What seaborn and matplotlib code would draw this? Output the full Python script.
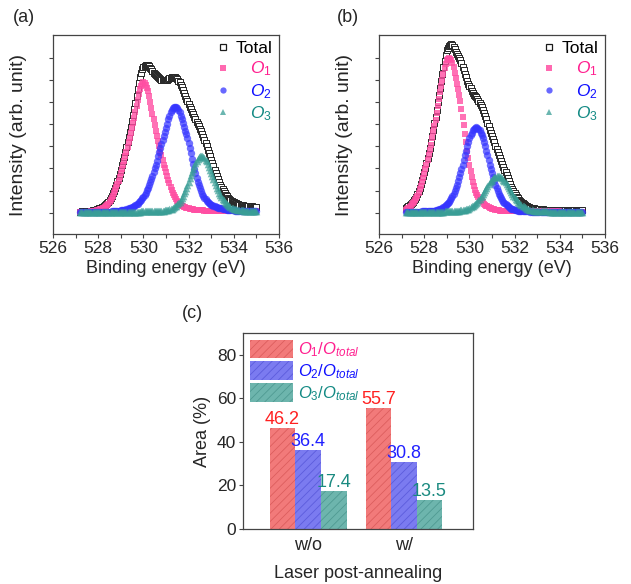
import matplotlib
matplotlib.use("Agg")
import matplotlib.pyplot as plt
import seaborn as sns
import pandas as pd
from matplotlib.lines import Line2D
from matplotlib.patches import Patch

sns.set_style("ticks")
plt.rcParams['font.family'] = ['Liberation Sans', 'DejaVu Sans']
plt.rcParams['mathtext.fontset'] = 'custom'
plt.rcParams['mathtext.it'] = 'Liberation Sans:italic'
plt.rcParams['mathtext.rm'] = 'Liberation Sans'
plt.rcParams['mathtext.sf'] = 'Liberation Sans'
plt.rcParams['mathtext.bf'] = 'Liberation Sans:bold'
plt.rcParams['hatch.linewidth'] = 0.6

# ---------------- data ----------------
energy = [527.20, 527.25, 527.30, 527.35, 527.40, 527.45, 527.50, 527.55,
          527.60, 527.65, 527.70, 527.75, 527.80, 527.85, 527.90, 527.95,
          528.00, 528.05, 528.10, 528.15, 528.20, 528.25, 528.30, 528.35, 528.40, 528.45,
          528.50, 528.55, 528.60, 528.65, 528.70, 528.75, 528.80, 528.85, 528.90, 528.95,
          529.00, 529.05, 529.10, 529.15, 529.20, 529.25, 529.30, 529.35, 529.40, 529.45,
          529.50, 529.55, 529.60, 529.65, 529.70, 529.75, 529.80, 529.85, 529.90, 529.95,
          530.00, 530.05, 530.10, 530.15, 530.20, 530.25, 530.30, 530.35, 530.40, 530.45,
          530.50, 530.55, 530.60, 530.65, 530.70, 530.75, 530.80, 530.85, 530.90, 530.95,
          531.00, 531.05, 531.10, 531.15, 531.20, 531.25, 531.30, 531.35, 531.40, 531.45,
          531.50, 531.55, 531.60, 531.65, 531.70, 531.75, 531.80, 531.85, 531.90, 531.95,
          532.00, 532.05, 532.10, 532.15, 532.20, 532.25, 532.30, 532.35, 532.40, 532.45,
          532.50, 532.55, 532.60, 532.65, 532.70, 532.75, 532.80, 532.85, 532.90, 532.95,
          533.00, 533.05, 533.10, 533.15, 533.20, 533.25, 533.30, 533.35, 533.40, 533.45,
          533.50, 533.55, 533.60, 533.65, 533.70, 533.75, 533.80, 533.85, 533.90, 533.95,
          534.00, 534.05, 534.10, 534.15, 534.20, 534.25, 534.30, 534.35, 534.40, 534.45,
          534.50, 534.55, 534.60, 534.65, 534.70, 534.75, 534.80, 534.85, 534.90, 534.95,
          535.00]

# panel (a): without laser post-annealing
total_a = [.04, .045, .05, .055, .06, .065, .07, .075, .08, .085, .09, .10, .11, .125, .14, .155,
           .17, .19, .21, .235, .26, .29, .33, .38, .43, .50, .57, .66, .76, .88, 1.00, 1.13, 1.27, 1.43, 1.59, 1.77,
           1.95, 2.14, 2.33, 2.54, 2.76, 2.99, 3.22, 3.44, 3.66, 3.90, 4.15, 4.41, 4.68, 4.98, 5.28, 5.59, 5.88, 6.13, 6.35, 6.50,
           6.60, 6.66, 6.69, 6.69, 6.68, 6.63, 6.57, 6.50, 6.42, 6.35, 6.28, 6.22, 6.17, 6.13, 6.09, 6.06, 6.03, 6.01, 6.00, 6.00,
           6.01, 6.03, 6.06, 6.09, 6.11, 6.13, 6.14, 6.14, 6.13, 6.10, 6.05, 5.98, 5.90, 5.80, 5.68, 5.56, 5.43, 5.30, 5.17, 5.04,
           4.92, 4.80, 4.68, 4.56, 4.45, 4.34, 4.23, 4.12, 4.02, 3.91, 3.80, 3.68, 3.56, 3.43, 3.29, 3.15, 3.00, 2.85, 2.70, 2.55,
           2.40, 2.24, 2.09, 1.94, 1.79, 1.65, 1.51, 1.38, 1.26, 1.15, 1.05, .96, .88, .81, .74, .68, .63, .58, .54, .50,
           .47, .445, .42, .40, .38, .365, .35, .34, .33, .32, .31, .305, .30, .295, .29, .285, .28, .275, .27, .265,
           .26]
o1_a = [.01, .012, .015, .017, .02, .025, .03, .035, .04, .045, .05, .06, .07, .08, .09, .105,
        .12, .135, .15, .175, .20, .23, .26, .30, .35, .41, .48, .56, .66, .77, .88, 1.01, 1.14, 1.29, 1.44, 1.61,
        1.78, 1.96, 2.14, 2.34, 2.55, 2.76, 2.98, 3.18, 3.38, 3.60, 3.82, 4.06, 4.30, 4.57, 4.85, 5.12, 5.38, 5.58, 5.75, 5.85,
        5.90, 5.86, 5.78, 5.65, 5.49, 5.27, 5.02, 4.76, 4.48, 4.22, 3.95, 3.71, 3.48, 3.25, 3.01, 2.80, 2.60, 2.39, 2.18, 2.00,
        1.83, 1.65, 1.48, 1.33, 1.18, 1.04, .91, .80, .71, .62, .53, .47, .41, .36, .32, .29, .27, .245, .22, .205,
        .19, .18, .17, .16, .15, .14, .13, .125, .12, .115, .11, .105, .10, .098, .095, .092, .09, .09, .09, .09,
        .09, .09, .09, .09, .09, .09, .09, .09, .09, .09, .09, .09, .09, .09, .09, .09, .09, .09, .09, .09,
        .08, .08, .08, .08, .08, .08, .08, .08, .08, .08, .08, .08, .08, .08, .08, .08, .08, .08, .08, .08,
        .08]
o2_a = [.01, .01, .01, .011, .012, .013, .014, .015, .016, .017, .018, .019, .02, .021, .022, .023,
        .025, .026, .028, .029, .03, .032, .035, .037, .04, .042, .045, .047, .05, .055, .06, .065, .07, .077, .085, .092,
        .10, .11, .12, .13, .14, .155, .17, .19, .21, .23, .25, .27, .30, .33, .37, .41, .46, .52, .58, .65,
        .72, .81, .91, 1.02, 1.13, 1.26, 1.39, 1.53, 1.68, 1.85, 2.02, 2.18, 2.35, 2.55, 2.74, 2.93, 3.12, 3.29, 3.46, 3.65,
        3.84, 4.03, 4.22, 4.39, 4.54, 4.65, 4.73, 4.78, 4.80, 4.78, 4.73, 4.65, 4.54, 4.39, 4.22, 4.06, 3.89, 3.72, 3.55, 3.37,
        3.17, 2.93, 2.69, 2.45, 2.21, 1.99, 1.78, 1.58, 1.39, 1.24, 1.10, .97, .86, .76, .67, .60, .53, .48, .43, .39,
        .36, .33, .30, .28, .26, .245, .23, .215, .20, .19, .18, .17, .16, .15, .14, .132, .125, .118, .11, .105,
        .10, .095, .09, .085, .08, .075, .07, .067, .065, .062, .06, .058, .057, .055, .054, .053, .052, .051, .05, .05,
        .05]
o3_a = [.010, .010, .011, .011, .012, .012, .012, .012, .013, .013, .013, .013, .014, .014, .015, .015,
        .015, .015, .016, .016, .017, .017, .018, .018, .019, .019, .02, .02, .021, .021, .022, .022, .023, .023, .024, .024,
        .025, .026, .027, .028, .029, .030, .031, .032, .034, .035, .037, .038, .04, .041, .043, .045, .047, .048, .05, .052,
        .055, .057, .06, .061, .062, .063, .065, .066, .068, .069, .07, .072, .075, .077, .08, .082, .085, .09, .095, .10,
        .11, .12, .13, .145, .16, .18, .21, .24, .28, .32, .37, .43, .50, .58, .67, .77, .88, 1.00, 1.13, 1.26,
        1.40, 1.55, 1.70, 1.85, 1.99, 2.13, 2.25, 2.36, 2.45, 2.51, 2.55, 2.56, 2.55, 2.52, 2.47, 2.40, 2.32, 2.20, 2.07, 1.93,
        1.78, 1.65, 1.52, 1.39, 1.26, 1.13, 1.01, .90, .80, .71, .62, .55, .48, .42, .37, .33, .29, .26, .23, .205,
        .18, .165, .15, .14, .13, .12, .11, .105, .10, .095, .09, .088, .085, .082, .08, .077, .075, .072, .07, .07,
        .07]

# panel (b): with laser post-annealing
total_b = [.19, .235, .28, .33, .38, .43, .48, .55, .62, .72, .84, .97, 1.12, 1.29, 1.48, 1.65,
           1.83, 2.04, 2.26, 2.47, 2.69, 2.93, 3.19, 3.47, 3.76, 4.05, 4.34, 4.67, 5.00, 5.33, 5.66, 5.97, 6.28, 6.59, 6.89, 7.14,
           7.35, 7.48, 7.56, 7.61, 7.63, 7.58, 7.50, 7.40, 7.29, 7.20, 7.12, 7.03, 6.92, 6.77, 6.61, 6.45, 6.29, 6.13, 5.97, 5.85,
           5.74, 5.63, 5.52, 5.43, 5.35, 5.28, 5.22, 5.14, 5.06, 4.97, 4.88, 4.78, 4.67, 4.53, 4.38, 4.23, 4.07, 3.91, 3.75, 3.60,
           3.46, 3.32, 3.18, 3.03, 2.89, 2.74, 2.60, 2.47, 2.35, 2.21, 2.08, 1.95, 1.83, 1.69, 1.56, 1.42, 1.29, 1.18, 1.07, .97,
           .88, .80, .72, .65, .59, .54, .49, .44, .40, .35, .31, .28, .26, .24, .22, .21, .20, .19, .18, .17,
           .165, .16, .153, .15, .146, .143, .14, .138, .135, .133, .13, .13, .13, .128, .125, .125, .125, .123, .12, .12,
           .12, .12, .12, .118, .115, .115, .115, .115, .115, .113, .11, .11, .11, .11, .11, .11, .11, .11, .11, .11,
           .11]
o1_b = [.14, .18, .22, .27, .32, .37, .42, .49, .56, .66, .77, .90, 1.05, 1.22, 1.40, 1.57,
        1.75, 1.96, 2.17, 2.38, 2.59, 2.83, 3.08, 3.36, 3.64, 3.92, 4.20, 4.51, 4.83, 5.15, 5.46, 5.75, 6.02, 6.30, 6.55, 6.75,
        6.90, 6.98, 7.00, 6.97, 6.90, 6.76, 6.58, 6.35, 6.09, 5.85, 5.60, 5.33, 5.04, 4.71, 4.34, 3.96, 3.57, 3.18, 2.80, 2.47,
        2.17, 1.88, 1.61, 1.39, 1.19, 1.04, .91, .80, .70, .62, .56, .51, .46, .40, .35, .31, .28, .25, .22, .20,
        .18, .165, .15, .135, .12, .11, .10, .095, .09, .085, .08, .075, .07, .067, .065, .062, .06, .057, .055, .055,
        .055, .055, .055, .055, .055, .055, .055, .055, .055, .055, .055, .055, .055, .055, .055, .055, .055, .055, .055, .055,
        .05, .05, .05, .05, .05, .05, .05, .05, .05, .05, .05, .05, .05, .05, .05, .05, .05, .05, .05, .05,
        .045, .045, .045, .045, .045, .045, .045, .045, .045, .045, .045, .045, .045, .045, .045, .045, .045, .045, .045, .045,
        .045]
o2_b = [.033, .034, .035, .036, .037, .038, .039, .04, .041, .042, .043, .045, .046, .048, .05, .052,
        .054, .056, .058, .061, .065, .069, .073, .079, .085, .092, .10, .115, .13, .145, .16, .18, .21, .25, .29, .34,
        .39, .44, .50, .57, .66, .75, .85, .98, 1.12, 1.27, 1.43, 1.60, 1.78, 1.97, 2.16, 2.37, 2.59, 2.80, 3.01, 3.19,
        3.36, 3.51, 3.63, 3.73, 3.80, 3.84, 3.86, 3.84, 3.80, 3.73, 3.63, 3.51, 3.36, 3.19, 3.01, 2.80, 2.59, 2.37, 2.16, 1.97,
        1.78, 1.60, 1.43, 1.27, 1.12, .98, .85, .75, .66, .57, .50, .44, .39, .34, .29, .25, .21, .18, .16, .145,
        .13, .115, .10, .092, .085, .079, .073, .069, .065, .061, .058, .055, .052, .05, .048, .047, .046, .044, .043, .041,
        .04, .039, .038, .037, .036, .0355, .035, .034, .033, .0325, .032, .031, .03, .0295, .029, .028, .027, .0265, .026, .0255,
        .025, .0245, .024, .024, .024, .0235, .023, .023, .023, .0225, .022, .022, .022, .0215, .021, .021, .021, .0205, .02, .02,
        .02]
o3_b = [.02, .02, .02, .02, .021, .021, .022, .022, .023, .023, .024, .024, .025, .025, .026, .026,
        .027, .027, .028, .029, .03, .031, .032, .033, .034, .035, .036, .037, .038, .039, .04, .042, .045, .047, .05, .052,
        .055, .057, .06, .062, .065, .067, .07, .075, .08, .085, .09, .095, .10, .105, .11, .12, .13, .145, .16, .18,
        .21, .24, .28, .32, .36, .40, .45, .50, .56, .62, .69, .77, .85, .93, 1.02, 1.11, 1.20, 1.29, 1.37, 1.44,
        1.50, 1.56, 1.60, 1.63, 1.65, 1.66, 1.65, 1.63, 1.60, 1.56, 1.50, 1.44, 1.37, 1.29, 1.20, 1.11, 1.02, .93, .85, .77,
        .69, .62, .56, .50, .45, .40, .36, .32, .28, .24, .20, .17, .15, .135, .12, .11, .10, .092, .085, .08,
        .075, .07, .065, .062, .06, .057, .055, .052, .05, .05, .05, .049, .048, .047, .046, .0455, .045, .0445, .044, .0435,
        .043, .0425, .042, .0415, .041, .0405, .04, .0395, .039, .0385, .038, .0375, .037, .0365, .036, .0355, .035, .0345, .034, .0335,
        .033]

# panel (c): area ratios (%)
conditions = ["w/o", "w/"]
o1_area = [46.2, 55.7]
o2_area = [36.4, 30.8]
o3_area = [17.4, 13.5]
ratio_labels = [r"$\mathit{O_1/O_{total}}$",
                r"$\mathit{O_2/O_{total}}$",
                r"$\mathit{O_3/O_{total}}$"]
energy_ticks = [526, 528, 530, 532, 534, 536]

for name, arr in [("total_a", total_a), ("o1_a", o1_a), ("o2_a", o2_a), ("o3_a", o3_a),
                  ("total_b", total_b), ("o1_b", o1_b), ("o2_b", o2_b), ("o3_b", o3_b)]:
    if len(arr) != len(energy):
        raise ValueError(f"{name}: {len(arr)} vs {len(energy)}")

# ---------------- styles ----------------
PINK = "#FF4FA3"
BLUE = "#3535FF"
TEAL = "#3A9E96"
LEG_PINK = "#FF1F8F"
LEG_BLUE = "#1010FF"
LEG_TEAL = "#138A84"
SPINE = "#444444"

fig = plt.figure(figsize=(6.31, 5.84), dpi=100)
ax_a = fig.add_axes([53/631, 1-234/584, 226/631, 199/584])
ax_b = fig.add_axes([379/631, 1-234/584, 226/631, 199/584])
ax_c = fig.add_axes([243/631, 1-529/584, 230/631, 196/584])


def spectrum(ax, tot, o1, o2, o3):
    sns.scatterplot(x=energy, y=tot, ax=ax, marker='s', s=19,
                    facecolor='white', edgecolor='#262626', linewidth=0.7, zorder=2)
    sns.scatterplot(x=energy, y=o1, ax=ax, marker='s', s=22, color=PINK,
                    alpha=0.8, linewidth=0, zorder=3)
    sns.scatterplot(x=energy, y=o2, ax=ax, marker='o', s=28, color=BLUE,
                    alpha=0.7, linewidth=0, zorder=3)
    sns.scatterplot(x=energy, y=o3, ax=ax, marker='^', s=30, color=TEAL,
                    alpha=0.7, linewidth=0, zorder=3)
    ax.set_xlim(526, 536)
    ax.set_ylim(-0.97, 8.05)
    ax.set_xticks(energy_ticks)
    ax.set_xticks(range(527, 536, 2), minor=True)
    ax.set_yticks(range(0, 8))
    ax.set_yticklabels([])
    ax.tick_params(axis='both', which='both', direction='out', length=3,
                   width=0.8, color=SPINE, labelsize=12.5, pad=2)
    for sp in ax.spines.values():
        sp.set_visible(True)
        sp.set_color(SPINE)
        sp.set_linewidth(0.9)
    ax.set_xlabel("Binding energy (eV)", fontsize=13, labelpad=3)
    ax.set_ylabel("Intensity (arb. unit)", fontsize=14, labelpad=14)
    handles = [
        Line2D([], [], ls='none', marker='s', ms=4, mfc='white', mec='#1a1a1a', mew=0.9),
        Line2D([], [], ls='none', marker='s', ms=4, color=PINK, alpha=0.85, mew=0),
        Line2D([], [], ls='none', marker='o', ms=4.5, color=BLUE, alpha=0.75, mew=0),
        Line2D([], [], ls='none', marker='^', ms=4.5, color=TEAL, alpha=0.75, mew=0),
    ]
    labels = ["Total", "   $\\mathit{O_1}$", "   $\\mathit{O_2}$", "   $\\mathit{O_3}$"]
    leg = ax.legend(handles, labels, loc='upper right', frameon=False, fontsize=12.5,
                    handlelength=0.8, handletextpad=0.35, labelspacing=0.2,
                    borderaxespad=0.1, borderpad=0.25)
    for t, c in zip(leg.get_texts(), ['black', LEG_PINK, LEG_BLUE, LEG_TEAL]):
        t.set_color(c)


spectrum(ax_a, total_a, o1_a, o2_a, o3_a)
spectrum(ax_b, total_b, o1_b, o2_b, o3_b)

# ---------------- panel (c) ----------------
df = pd.DataFrame({
    "condition": conditions * 3,
    "component": [ratio_labels[0]] * 2 + [ratio_labels[1]] * 2 + [ratio_labels[2]] * 2,
    "area": o1_area + o2_area + o3_area,
})
bar_fill = ["#F27A7A", "#7B7BF0", "#6DB5AD"]
bar_hatch = ["#DC5E5E", "#5C5CDC", "#4F9A92"]
label_cols = ["#FF2020", "#2020FF", "#1A8A80"]
sns.barplot(data=df, x="condition", y="area", hue="component", ax=ax_c,
            palette=bar_fill, saturation=1, width=0.8, legend=False)
for cont, hc, lc in zip(ax_c.containers, bar_hatch, label_cols):
    for p in cont:
        p.set_hatch('////')
        p.set_edgecolor(hc)
        p.set_linewidth(0)
    ax_c.bar_label(cont, fmt='%.1f', color=lc, fontsize=13, padding=0)
ax_c.set_xlim(-0.68, 1.72)
ax_c.set_ylim(0, 90)
ax_c.set_yticks([0, 20, 40, 60, 80])
ax_c.tick_params(axis='y', direction='out', length=3, width=0.8, color=SPINE,
                 labelsize=12.5, pad=2)
ax_c.tick_params(axis='x', length=0, labelsize=13, pad=6)
for sp in ax_c.spines.values():
    sp.set_visible(True)
    sp.set_color(SPINE)
    sp.set_linewidth(0.9)
ax_c.set_xlabel("Laser post-annealing", fontsize=13, labelpad=8)
ax_c.set_ylabel("Area (%)", fontsize=13, labelpad=4)
leg_handles = [Patch(facecolor=f, edgecolor=h, hatch='////', linewidth=0)
               for f, h in zip(bar_fill, bar_hatch)]
leg_c = ax_c.legend(leg_handles, ratio_labels, loc='upper left', frameon=False,
                    fontsize=12, handlelength=2.6, handleheight=1.35,
                    labelspacing=0.12, handletextpad=0.3, borderaxespad=0.2,
                    borderpad=0.2)
for t, c in zip(leg_c.get_texts(), [LEG_PINK, LEG_BLUE, LEG_TEAL]):
    t.set_color(c)

# panel tags
fig.text(13/631, 1-18/584, "(a)", fontsize=13, va='center', ha='left')
fig.text(337/631, 1-18/584, "(b)", fontsize=13, va='center', ha='left')
fig.text(182/631, 1-313/584, "(c)", fontsize=13, va='center', ha='left')

fig.savefig("out.png", dpi=100)
